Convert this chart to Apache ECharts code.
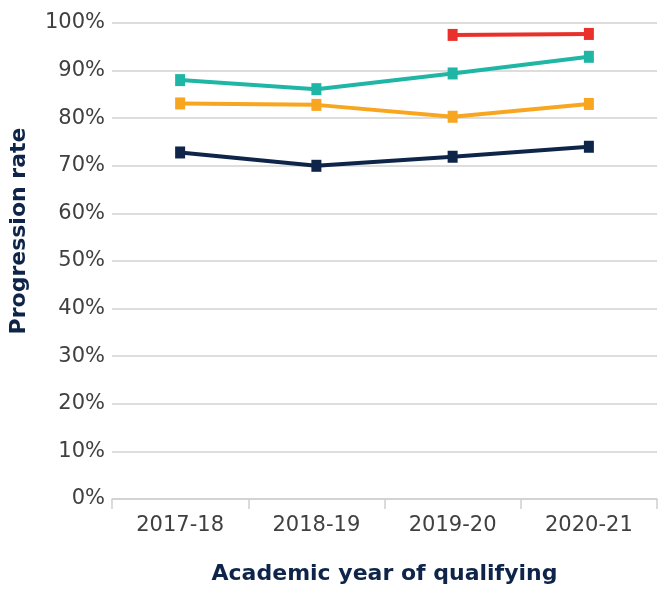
<!DOCTYPE html>
<html>
<head>
<meta charset="utf-8">
<script src="https://cdn.jsdelivr.net/npm/echarts@6/dist/echarts.min.js"></script>
<style>
  html, body { margin: 0; padding: 0; background: #ffffff; }
  #chart { width: 659px; height: 590px; }
</style>
</head>
<body>
<div id="chart"></div>
<script>
// Academic years on the x axis
const years = ['2017-18', '2018-19', '2019-20', '2020-21'];

// Progression rates (%) per series
const tealRates   = [88.0, 86.1, 89.4, 92.9];
const orangeRates = [83.1, 82.8, 80.3, 83.0];
const navyRates   = [72.8, 70.0, 71.9, 74.0];
const redRates    = [null, null, 97.5, 97.7];

// Y axis range and step (percent)
const yMin = 0;
const yMax = 100;
const yStep = 10;

const labelFont = 'DejaVu Sans';
const navy = '#0e2549';

function lineSeries(name, data, color) {
  return {
    name: name,
    type: 'line',
    data: data,
    symbol: 'rect',
    symbolSize: [10, 12],
    showAllSymbol: true,
    connectNulls: false,
    lineStyle: { color: color, width: 4 },
    itemStyle: { color: color },
    emphasis: { disabled: true },
    animation: false
  };
}

const chart = echarts.init(document.getElementById('chart'));
chart.setOption({
  backgroundColor: '#ffffff',
  animation: false,
  grid: { left: 110, right: 2, top: 23, bottom: 91, containLabel: false },
  xAxis: {
    type: 'category',
    data: years,
    boundaryGap: true,
    name: 'Academic year of qualifying',
    nameLocation: 'middle',
    nameGap: 64,
    nameTextStyle: { fontFamily: labelFont, fontWeight: 'bold', fontSize: 22, color: navy },
    axisLine: { show: true, lineStyle: { color: '#cfcfcf', width: 1.5 } },
    axisTick: { show: true, length: 10, lineStyle: { color: '#cfcfcf', width: 1.5 } },
    axisLabel: { fontFamily: labelFont, fontSize: 21, color: '#404040', margin: 16 }
  },
  yAxis: {
    type: 'value',
    min: yMin,
    max: yMax,
    interval: yStep,
    name: 'Progression rate',
    nameLocation: 'middle',
    nameGap: 82,
    nameTextStyle: {
      fontFamily: labelFont, fontWeight: 'bold', fontSize: 22, color: navy,
      padding: [0, 0, 0, 60]
    },
    axisLine: { show: false },
    axisTick: { show: false },
    axisLabel: { fontFamily: labelFont, fontSize: 21, color: '#404040', margin: 7, formatter: '{value}%' },
    splitLine: { show: true, lineStyle: { color: '#d2d2d2', width: 1.5 } }
  },
  series: [
    lineSeries('Navy', navyRates, '#0e2549'),
    lineSeries('Orange', orangeRates, '#f8a620'),
    lineSeries('Teal', tealRates, '#1fb6a6'),
    lineSeries('Red', redRates, '#e9302b')
  ]
});
</script>
</body>
</html>
